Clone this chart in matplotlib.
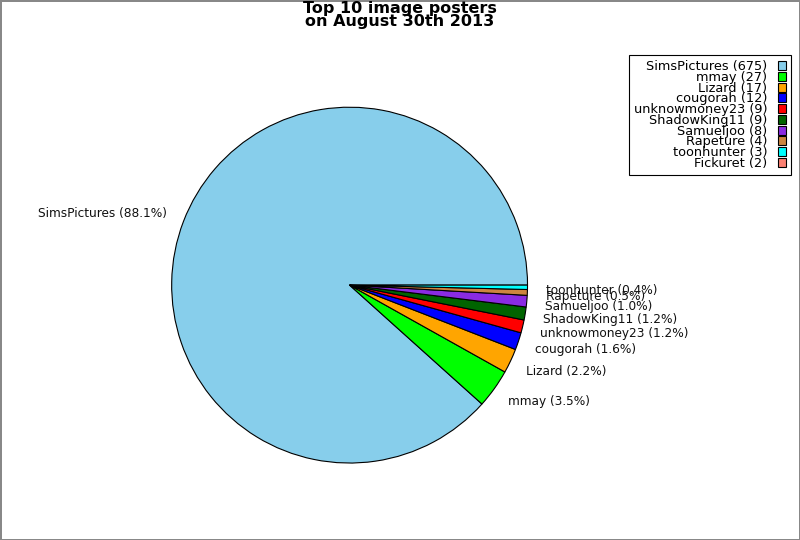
import matplotlib
matplotlib.use('Agg')
import matplotlib.pyplot as plt
from matplotlib.patches import Patch

names = ['SimsPictures', 'mmay', 'Lizard', 'cougorah', 'unknowmoney23',
         'ShadowKing11', 'Samueljoo', 'Rapeture', 'toonhunter', 'Fickuret']
counts = [675, 27, 17, 12, 9, 9, 8, 4, 3, 2]
colors = ['skyblue', 'lime', 'orange', 'blue', 'red',
          'darkgreen', 'blueviolet', 'peru', 'cyan', 'salmon']

total = sum(counts)
# Fickuret gets no visible wedge or label, percentages use the full total
labels = ['%s (%.1f%%)' % (n, 100.0 * c / total) for n, c in zip(names, counts)]
labels[-1] = ''

fig = plt.figure(figsize=(8, 5.4), dpi=100)
fig.patch.set_edgecolor('#888888')
fig.patch.set_linewidth(2)

ax = fig.add_axes([0.159, 0.060, 0.556, 0.824])

# visible wedges: the first nine posters fill the circle
ax.pie(counts[:9], colors=colors[:9], startangle=0,
       wedgeprops={'edgecolor': 'black', 'linewidth': 0.8})
# labels placed from all ten values
ax.pie(counts, labels=labels, startangle=0, labeldistance=1.105,
       wedgeprops={'visible': False},
       textprops={'fontsize': 8.7, 'color': '#111111'})
ax.set_aspect('equal')

fig.suptitle('Top 10 image posters\non August 30th 2013', fontsize=11.5,
             fontweight='bold', y=0.998, linespacing=0.85)

handles = [Patch(facecolor=c, edgecolor='black', linewidth=0.8) for c in colors]
leg_labels = ['%s (%d)' % (n, c) for n, c in zip(names, counts)]
leg = fig.legend(handles, leg_labels, loc='upper right',
                 bbox_to_anchor=(791 / 800, 1 - 55 / 540), borderaxespad=0,
                 markerfirst=False, fontsize=9.3, labelspacing=-0.175,
                 handlelength=0.62, handleheight=0.7, handletextpad=0.8,
                 borderpad=0.4, fancybox=False, edgecolor='black',
                 framealpha=1)
leg.get_frame().set_linewidth(0.8)

fig.savefig('out.png', dpi=100)
